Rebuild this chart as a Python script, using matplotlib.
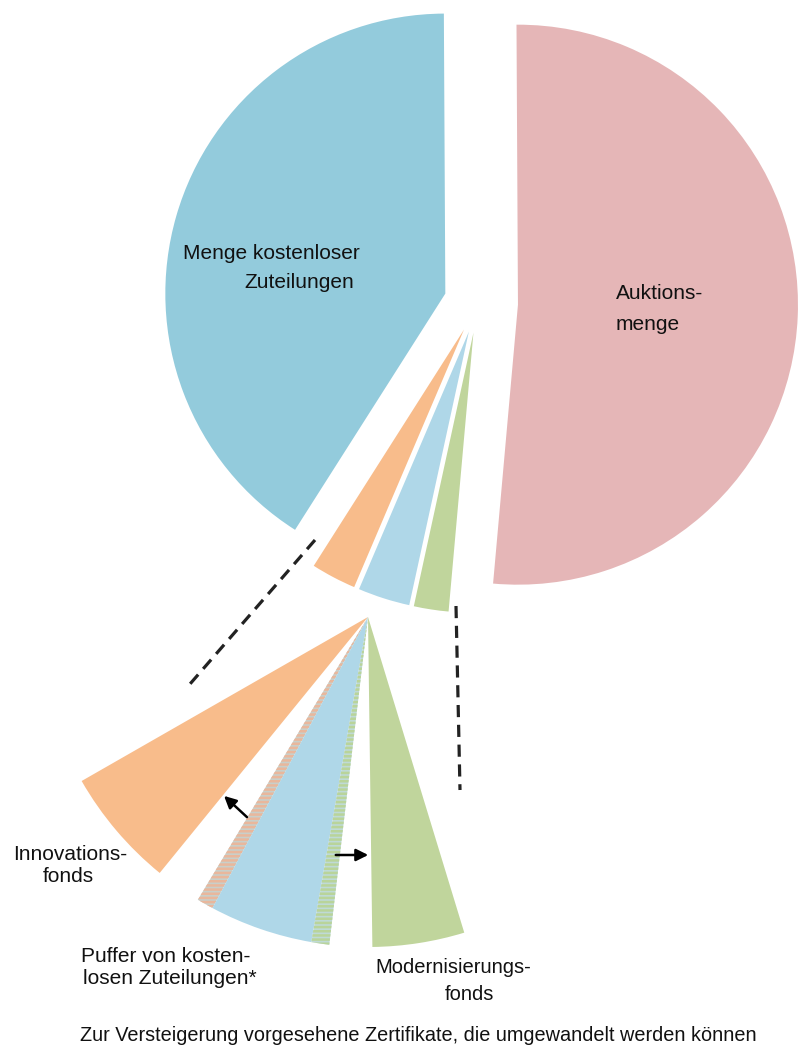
import matplotlib
matplotlib.use("Agg")
import matplotlib.pyplot as plt

plt.rcParams['font.family'] = ['Liberation Sans', 'DejaVu Sans']
plt.rcParams['hatch.linewidth'] = 1.8

# ---------------- data ----------------
categories = ["Auktionsmenge", "Menge kostenloser Zuteilungen", "Innovationsfonds",
              "Puffer von kostenlosen Zuteilungen*", "Modernisierungsfonds"]
shares = [51.5, 40.9, 2.6, 3.0, 2.0]          # percent of the total
colors = ["#E5B6B7", "#93CBDC", "#F8BC8B", "#AFD7E8", "#C0D59C"]

# detail fan (the three small parts, magnified)
detail_parts = ["Innovationsfonds", "Puffer von kostenlosen Zuteilungen*", "Modernisierungsfonds"]
detail_shares = [2.6, 3.0, 2.0]
convertible_share_left = 0.12    # part of the Puffer that can go to Innovationsfonds
convertible_share_right = 0.13   # part that can go to Modernisierungsfonds

# ---------------- layout ----------------
W, H = 803, 1057
def py(y):  # pixel row -> data y
    return H - y

main_center = (478, py(303))
main_radius = 280
main_start = 264.9
main_explode = [40, 34, 30, 30, 30]

fan_center = (368, py(617))
fan_radius = 330
fan_start = 209.8
fan_mag = 2.25
gap_left = 8.1 / 360
gap_right = 7.5 / 360

fig = plt.figure(figsize=(W / 100, H / 100), dpi=100)
ax = fig.add_axes([0, 0, 1, 1])

# main pie
wedges, _ = ax.pie(shares, colors=colors, startangle=main_start, counterclock=True,
                   radius=main_radius, center=main_center, explode=main_explode,
                   wedgeprops=dict(linewidth=0))

# detail fan (partial pie with invisible gaps)
f_inno, f_puf, f_mod = [s * fan_mag / 100 for s in detail_shares]
strip_l = f_puf * convertible_share_left
strip_r = f_puf * convertible_share_right
fan_vals = [f_inno, gap_left, strip_l, f_puf - strip_l - strip_r, strip_r, gap_right, f_mod]
fan_cols = [colors[2], "none", "#C9CFC9", colors[3], "#BFDAD6", "none", colors[4]]
fw, _ = ax.pie(fan_vals, colors=fan_cols, startangle=fan_start, counterclock=True,
               radius=fan_radius, center=fan_center, normalize=False,
               wedgeprops=dict(linewidth=0))
fw[1].set_visible(False)
fw[5].set_visible(False)
fw[2].set_hatch('----')
fw[2].set_edgecolor("#E9B79C")
fw[2].set_linewidth(0)
fw[4].set_hatch('----')
fw[4].set_edgecolor("#B9D49A")
fw[4].set_linewidth(0)

# connector dashed lines
ax.plot([315, 190], [py(540), py(684)], ls=(0, (3.8, 2.4)), color="#222222", lw=2.3)
ax.plot([456, 460], [py(606), py(790)], ls=(0, (3.8, 2.4)), color="#222222", lw=2.3)

# arrows
ax.annotate("", xy=(222, py(794)), xytext=(249, py(819)),
            arrowprops=dict(arrowstyle="-|>", color="black", lw=1.8, mutation_scale=18))
ax.annotate("", xy=(371, py(855)), xytext=(333, py(855)),
            arrowprops=dict(arrowstyle="-|>", color="black", lw=1.8, mutation_scale=18))

# labels
fs = 15
def label(x, y, s, ha="left", size=fs):
    ax.text(x, py(y), s, ha=ha, va="baseline", fontsize=size, color="#111111")

label(183, 259, "Menge kostenloser")
label(244, 288, "Zuteilungen")
label(616, 299, "Auktions-")
label(616, 330, "menge")
label(70, 860, "Innovations-", ha="center")
label(68, 882, "fonds", ha="center")
label(81, 962, "Puffer von kosten-")
label(83, 984, "losen Zuteilungen*")
label(375, 973, "Modernisierungs-", size=14.5)
label(445, 1000, "fonds", size=14.5)
label(418, 1041, "Zur Versteigerung vorgesehene Zertifikate, die umgewandelt werden können",
      ha="center", size=14.3)

ax.set_xlim(0, W)
ax.set_ylim(0, H)
ax.set_aspect("equal")
ax.axis("off")
fig.savefig("out.png", dpi=100)
